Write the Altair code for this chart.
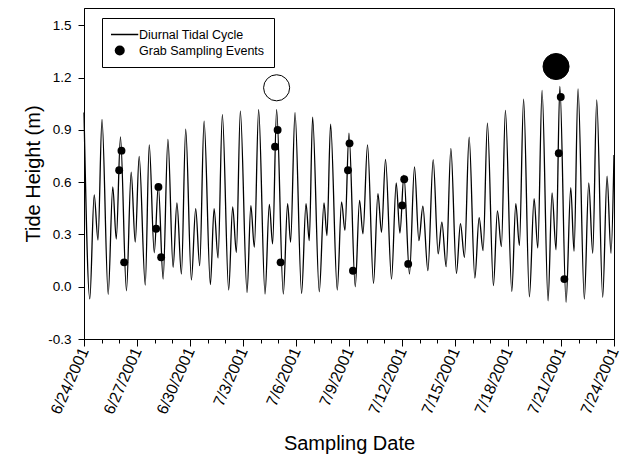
import altair as alt
import pandas as pd

FONT = "Liberation Sans"
START = pd.Timestamp("2001-06-24")

# Tide curve: turning points (days after 6/24/2001 00:00) and heights (m)
tide_day = [0.000,
            0.328, 0.577, 0.792, 1.018, 1.369, 1.629, 1.827, 2.064,
            2.403, 2.669, 2.901, 3.122, 3.467, 3.693, 3.976, 4.207,
            4.479, 4.750, 5.044, 5.259, 5.514, 5.757, 6.079, 6.322,
            6.549, 6.797, 7.154, 7.363, 7.589, 7.832, 8.189, 8.415,
            8.624, 8.850, 9.229, 9.444, 9.642, 9.885, 10.247, 10.490,
            10.677, 10.903, 11.282, 11.525, 11.695, 11.944, 12.317, 12.566,
            12.752, 12.939, 13.318, 13.584, 13.753, 13.957, 14.336, 14.579,
            14.771, 14.997, 15.354, 15.597, 15.789, 16.049, 16.388, 16.637,
            16.841, 17.067, 17.407, 17.672, 17.882, 18.108, 18.424, 18.707,
            18.956, 19.182, 19.465, 19.765, 20.048, 20.257, 20.500, 20.766,
            21.082, 21.308, 21.535, 21.800, 22.123, 22.366, 22.592, 22.835,
            23.175, 23.401, 23.627, 23.853, 24.215, 24.441, 24.645, 24.883,
            25.211, 25.477, 25.686, 25.929, 26.268, 26.494, 26.720, 26.935,
            27.286, 27.552, 27.739, 27.965, 28.321, 28.570, 28.796, 29.022,
            29.361, 29.605, 29.831, 30.000]
tide_height = [1.00,
               -0.07, 0.527, 0.268, 0.96, -0.043, 0.573, 0.273, 0.86,
               -0.023, 0.658, 0.256, 0.748, 0.01, 0.814, 0.195, 0.58,
               0.044, 0.846, 0.111, 0.481, 0.073, 0.904, 0.039, 0.448,
               0.121, 0.95, 0.012, 0.448, 0.165, 0.988, -0.019, 0.458,
               0.198, 1.008, -0.033, 0.465, 0.227, 1.016, -0.042, 0.473,
               0.246, 1.016, -0.042, 0.477, 0.256, 1.0, -0.038, 0.477,
               0.265, 0.973, -0.029, 0.481, 0.294, 0.933, -0.019, 0.487,
               0.323, 0.881, 0.0, 0.496, 0.304, 0.814, 0.019, 0.535,
               0.313, 0.731, 0.044, 0.596, 0.308, 0.64, 0.073, 0.688,
               0.265, 0.462, 0.092, 0.73, 0.189, 0.371, 0.115, 0.794,
               0.077, 0.362, 0.169, 0.858, 0.05, 0.396, 0.208, 0.939,
               0.006, 0.435, 0.231, 1.012, -0.027, 0.477, 0.237, 1.077,
               -0.058, 0.506, 0.223, 1.127, -0.081, 0.539, 0.212, 1.15,
               -0.09, 0.569, 0.204, 1.135, -0.071, 0.596, 0.192, 1.073,
               -0.061, 0.635, 0.192, 0.756]

# Grab sampling events
sample_day = [1.991, 2.121, 2.273, 4.083, 4.213, 4.366, 10.813, 10.960, 11.129,
              14.941, 15.031, 15.224, 18.011, 18.125, 18.351, 26.873, 26.986, 27.190]
sample_height = [0.669, 0.781, 0.140, 0.333, 0.573, 0.169, 0.804, 0.900, 0.140,
                 0.669, 0.823, 0.092, 0.467, 0.617, 0.131, 0.766, 1.089, 0.044]

# Moon phase markers
moon_day = [10.903, 26.720]
moon_height = [1.142, 1.264]
moon_phase = ["Full moon", "New moon"]

legend_labels = ["Diurnal Tidal Cycle", "Grab Sampling Events"]
y_ticks = [-0.3, 0.0, 0.3, 0.6, 0.9, 1.2, 1.5]
major_tick_days = [0, 3, 6, 9, 12, 15, 18, 21, 24, 27, 30]
minor_tick_days = list(range(0, 31))

# legend glyph for the tide line: a thin horizontal bar (unit-square path)
LINE_GLYPH = "M-3.7,-0.16L3.7,-0.16L3.7,0.16L-3.7,0.16Z"


def to_dt(days):
    return START + pd.to_timedelta(days, unit="D")


def dt_obj(d):
    t = START + pd.Timedelta(days=d)
    return alt.DateTime(year=t.year, month=t.month, date=t.day)


tide = pd.DataFrame({"date": to_dt(tide_day), "height": tide_height})
samples = pd.DataFrame({"date": to_dt(sample_day), "height": sample_height,
                        "series": legend_labels[1]})
moons = pd.DataFrame({"date": to_dt(moon_day), "height": moon_height, "phase": moon_phase})

x_scale = alt.Scale(domain=[dt_obj(0), dt_obj(30)])
y_scale = alt.Scale(domain=[-0.3, 1.6], nice=False, zero=False)

x_axis = alt.Axis(values=[dt_obj(d) for d in major_tick_days], format="%-m/%-d/%Y",
                  labelAngle=-66, labelAlign="right", labelBaseline="middle",
                  tickSize=7, labelPadding=2, labelFontSize=16, labelFont=FONT,
                  labelColor="black", titleFont=FONT, titleFontSize=20,
                  titleFontWeight="normal", titleColor="black", titleX=265, titleY=110,
                  titleBaseline="alphabetic", titleAlign="center", grid=False,
                  domainColor="black", tickColor="black", orient="bottom", labelOverlap=False)
minor_axis = alt.Axis(values=[dt_obj(d) for d in minor_tick_days], tickSize=4, labels=False,
                      domain=False, grid=False, tickColor="black", orient="bottom", title=None)
y_axis = alt.Axis(values=y_ticks, orient="left",
                  labelExpr="datum.value < 0 ? '-' + format(-datum.value, '.1f') : format(datum.value, '.1f')",
                  tickSize=6, labelPadding=7, labelFontSize=13.5, labelFont=FONT, labelColor="black",
                  titleFont=FONT, titleFontSize=20, titleFontWeight="normal", titleColor="black",
                  titleX=-44.5, titleY=165.5, titleAngle=270, titleBaseline="alphabetic",
                  titleAlign="center", grid=False, domainColor="black", tickColor="black")

y_enc = alt.Y("height:Q", scale=y_scale, axis=y_axis, title="Tide Height (m)")

line = alt.Chart(tide).mark_line(color="black", strokeWidth=1.3, interpolate="monotone").encode(
    x=alt.X("date:T", scale=x_scale, axis=x_axis, title="Sampling Date"),
    y=y_enc,
)

leg = alt.Legend(title=None, orient="none", legendX=18, legendY=10, direction="vertical",
                 strokeColor="black", fillColor="white", padding=9, labelFont=FONT,
                 labelFontSize=12.5, labelColor="black", labelOffset=13,
                 symbolOffset=2.5, symbolFillColor="black", symbolStrokeColor="black",
                 symbolStrokeWidth=0.5, symbolOpacity=1, clipHeight=15, rowPadding=1,
                 cornerRadius=0)

points = alt.Chart(samples).mark_point(filled=True, color="black", size=62, opacity=1).encode(
    x=alt.X("date:T", scale=x_scale, axis=None),
    y=y_enc,
    shape=alt.Shape("series:N", scale=alt.Scale(domain=legend_labels, range=[LINE_GLYPH, "circle"]),
                    legend=leg),
)

moon = alt.Chart(moons).mark_circle(size=680, stroke="black", strokeWidth=1, opacity=1).encode(
    x=alt.X("date:T", scale=x_scale, axis=minor_axis),
    y=y_enc,
    fill=alt.Fill("phase:N", scale=alt.Scale(domain=moon_phase, range=["white", "black"]), legend=None),
)

chart = alt.layer(line, points, moon).resolve_axis(x="independent").properties(
    width=530, height=331,
    autosize=alt.AutoSizeParams(type="none"),
    padding={"left": 84, "top": 8, "right": 7, "bottom": 117},
    background="white",
).configure_view(stroke="black", strokeWidth=1)

chart.save("out.html", embed_options={"renderer": "svg", "actions": False})
